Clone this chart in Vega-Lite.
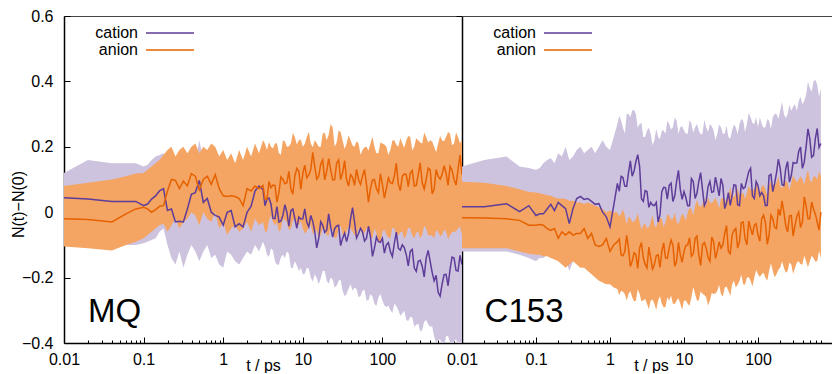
{
  "$schema": "https://vega.github.io/schema/vega-lite/v6.json",
  "padding": {"left": 10, "top": 8, "right": 0, "bottom": 0},
  "spacing": 0,
  "bounds": "flush",
  "config": {"view": {"stroke": null}, "font": "Liberation Sans", "axis": {"labelFont": "Liberation Sans", "titleFont": "Liberation Sans"}},
  "resolve": {"scale": {"x": "independent", "y": "independent", "color": "independent"}, "legend": {"color": "independent"}},
  "datasets": {
    "mq": [
      {"t":0.01,"cy":0.044,"cl":-0.07,"ch":0.12,"ay":-0.02,"al":-0.105,"ah":0.08},
      {"t":0.02,"cy":0.04,"cl":-0.08,"ch":0.16,"ay":-0.022,"al":-0.11,"ah":0.09},
      {"t":0.04,"cy":0.033,"cl":-0.09,"ch":0.15,"ay":-0.03,"al":-0.117,"ah":0.10},
      {"t":0.06,"cy":0.033,"cl":-0.1,"ch":0.15,"ay":-0.005,"al":-0.1,"ah":0.11},
      {"t":0.08,"cy":0.033,"cl":-0.1,"ch":0.15,"ay":0.01,"al":-0.09,"ah":0.118},
      {"t":0.1,"cy":0.02,"cl":-0.095,"ch":0.14,"ay":0.015,"al":-0.08,"ah":0.12},
      {"t":0.1122,"cy":0.025,"cl":-0.09,"ch":0.145,"ay":0.01,"al":-0.07,"ah":0.13},
      {"t":0.1259,"cy":0.04,"cl":-0.085,"ch":0.16,"ay":0.0,"al":-0.06,"ah":0.14},
      {"t":0.1413,"cy":0.05,"cl":-0.08,"ch":0.17,"ay":0.008,"al":-0.05,"ah":0.15},
      {"t":0.1585,"cy":0.065,"cl":-0.06,"ch":0.175,"ay":0.018,"al":-0.04,"ah":0.16},
      {"t":0.1778,"cy":0.072,"cl":-0.05,"ch":0.18,"ay":0.02,"al":-0.035,"ah":0.175},
      {"t":0.1995,"cy":0.005,"cl":-0.1,"ch":0.15,"ay":0.065,"al":-0.06,"ah":0.19},
      {"t":0.2239,"cy":0.01,"cl":-0.14,"ch":0.12,"ay":0.1,"al":-0.04,"ah":0.2},
      {"t":0.2512,"cy":-0.03,"cl":-0.16,"ch":0.1,"ay":0.097,"al":-0.02,"ah":0.17},
      {"t":0.2818,"cy":-0.028,"cl":-0.12,"ch":0.08,"ay":0.072,"al":-0.05,"ah":0.19},
      {"t":0.3162,"cy":-0.03,"cl":-0.17,"ch":0.12,"ay":0.095,"al":-0.03,"ah":0.2},
      {"t":0.3548,"cy":0.01,"cl":-0.13,"ch":0.14,"ay":0.08,"al":-0.02,"ah":0.18},
      {"t":0.3981,"cy":0.055,"cl":-0.1,"ch":0.17,"ay":0.118,"al":0.0,"ah":0.2},
      {"t":0.4467,"cy":0.06,"cl":-0.12,"ch":0.15,"ay":0.11,"al":-0.01,"ah":0.21},
      {"t":0.5012,"cy":0.097,"cl":-0.15,"ch":0.22,"ay":0.068,"al":-0.04,"ah":0.18},
      {"t":0.5623,"cy":0.03,"cl":-0.12,"ch":0.16,"ay":0.1,"al":0.0,"ah":0.2},
      {"t":0.631,"cy":0.042,"cl":-0.1,"ch":0.15,"ay":0.11,"al":-0.02,"ah":0.19},
      {"t":0.7079,"cy":0.0,"cl":-0.14,"ch":0.12,"ay":0.085,"al":-0.03,"ah":0.21},
      {"t":0.7943,"cy":-0.01,"cl":-0.13,"ch":0.14,"ay":0.115,"al":0.0,"ah":0.2},
      {"t":0.8913,"cy":-0.015,"cl":-0.16,"ch":0.13,"ay":0.072,"al":-0.05,"ah":0.17},
      {"t":1,"cy":-0.04,"cl":-0.17,"ch":0.1,"ay":0.05,"al":-0.03,"ah":0.19},
      {"t":1.122,"cy":0.0,"cl":-0.12,"ch":0.13,"ay":0.048,"al":-0.07,"ah":0.16},
      {"t":1.259,"cy":0.005,"cl":-0.13,"ch":0.15,"ay":0.05,"al":-0.05,"ah":0.18},
      {"t":1.413,"cy":-0.045,"cl":-0.15,"ch":0.14,"ay":0.048,"al":-0.04,"ah":0.15},
      {"t":1.585,"cy":-0.035,"cl":-0.16,"ch":0.12,"ay":0.042,"al":-0.06,"ah":0.19},
      {"t":1.778,"cy":-0.045,"cl":-0.14,"ch":0.16,"ay":0.02,"al":-0.05,"ah":0.16},
      {"t":1.995,"cy":0.0,"cl":-0.12,"ch":0.15,"ay":0.072,"al":-0.03,"ah":0.2},
      {"t":2.239,"cy":0.018,"cl":-0.13,"ch":0.13,"ay":0.065,"al":-0.06,"ah":0.17},
      {"t":2.512,"cy":0.065,"cl":-0.1,"ch":0.17,"ay":0.08,"al":-0.02,"ah":0.21},
      {"t":2.818,"cy":0.08,"cl":-0.12,"ch":0.16,"ay":0.072,"al":-0.04,"ah":0.18},
      {"t":3.162,"cy":0.07,"cl":-0.09,"ch":0.18,"ay":0.082,"al":-0.03,"ah":0.22},
      {"t":3.548,"cy":0.04,"cl":-0.13,"ch":0.15,"ay":0.04,"al":-0.06,"ah":0.19},
      {"t":3.981,"cy":0.025,"cl":-0.11,"ch":0.17,"ay":0.075,"al":-0.01,"ah":0.2},
      {"t":4.467,"cy":-0.02,"cl":-0.15,"ch":0.15,"ay":0.082,"al":-0.04,"ah":0.21},
      {"t":5.012,"cy":-0.03,"cl":-0.16,"ch":0.14,"ay":0.06,"al":-0.06,"ah":0.18},
      {"t":5.623,"cy":-0.01,"cl":-0.13,"ch":0.16,"ay":0.1,"al":-0.02,"ah":0.22},
      {"t":6.31,"cy":0.0,"cl":-0.12,"ch":0.17,"ay":0.09,"al":-0.03,"ah":0.2},
      {"t":7.079,"cy":0.005,"cl":-0.17,"ch":0.15,"ay":0.072,"al":-0.05,"ah":0.21},
      {"t":7.943,"cy":-0.02,"cl":-0.15,"ch":0.12,"ay":0.11,"al":-0.02,"ah":0.23},
      {"t":8.913,"cy":-0.015,"cl":-0.18,"ch":0.14,"ay":0.125,"al":-0.04,"ah":0.22},
      {"t":10,"cy":-0.02,"cl":-0.19,"ch":0.13,"ay":0.118,"al":-0.05,"ah":0.2},
      {"t":11.22,"cy":-0.03,"cl":-0.17,"ch":0.15,"ay":0.105,"al":-0.06,"ah":0.23},
      {"t":12.59,"cy":-0.01,"cl":-0.2,"ch":0.13,"ay":0.13,"al":-0.04,"ah":0.21},
      {"t":14.13,"cy":-0.06,"cl":-0.19,"ch":0.12,"ay":0.14,"al":-0.06,"ah":0.22},
      {"t":15.85,"cy":-0.08,"cl":-0.22,"ch":0.1,"ay":0.11,"al":-0.08,"ah":0.2},
      {"t":17.78,"cy":-0.04,"cl":-0.18,"ch":0.14,"ay":0.16,"al":-0.05,"ah":0.24},
      {"t":19.95,"cy":-0.055,"cl":-0.21,"ch":0.12,"ay":0.125,"al":-0.07,"ah":0.22},
      {"t":22.39,"cy":-0.045,"cl":-0.2,"ch":0.13,"ay":0.13,"al":-0.04,"ah":0.27},
      {"t":25.12,"cy":-0.05,"cl":-0.23,"ch":0.11,"ay":0.1,"al":-0.08,"ah":0.2},
      {"t":28.18,"cy":-0.04,"cl":-0.21,"ch":0.12,"ay":0.16,"al":-0.05,"ah":0.25},
      {"t":31.62,"cy":-0.08,"cl":-0.24,"ch":0.1,"ay":0.12,"al":-0.07,"ah":0.22},
      {"t":35.48,"cy":-0.09,"cl":-0.25,"ch":0.09,"ay":0.1,"al":-0.06,"ah":0.21},
      {"t":39.81,"cy":-0.02,"cl":-0.22,"ch":0.13,"ay":0.115,"al":-0.05,"ah":0.22},
      {"t":44.67,"cy":-0.03,"cl":-0.23,"ch":0.12,"ay":0.082,"al":-0.07,"ah":0.2},
      {"t":50.12,"cy":-0.065,"cl":-0.26,"ch":0.1,"ay":0.1,"al":-0.05,"ah":0.21},
      {"t":56.23,"cy":-0.06,"cl":-0.24,"ch":0.11,"ay":0.11,"al":-0.07,"ah":0.19},
      {"t":63.1,"cy":-0.08,"cl":-0.27,"ch":0.09,"ay":0.085,"al":-0.05,"ah":0.2},
      {"t":70.79,"cy":-0.075,"cl":-0.25,"ch":0.1,"ay":0.072,"al":-0.08,"ah":0.21},
      {"t":79.43,"cy":-0.11,"cl":-0.28,"ch":0.07,"ay":0.1,"al":-0.05,"ah":0.2},
      {"t":89.13,"cy":-0.09,"cl":-0.26,"ch":0.08,"ay":0.06,"al":-0.09,"ah":0.18},
      {"t":100,"cy":-0.08,"cl":-0.27,"ch":0.1,"ay":0.085,"al":-0.06,"ah":0.21},
      {"t":112.2,"cy":-0.1,"cl":-0.29,"ch":0.07,"ay":0.072,"al":-0.07,"ah":0.2},
      {"t":125.9,"cy":-0.12,"cl":-0.3,"ch":0.06,"ay":0.09,"al":-0.08,"ah":0.19},
      {"t":141.3,"cy":-0.095,"cl":-0.28,"ch":0.08,"ay":0.11,"al":-0.05,"ah":0.22},
      {"t":158.5,"cy":-0.11,"cl":-0.3,"ch":0.06,"ay":0.085,"al":-0.07,"ah":0.2},
      {"t":177.8,"cy":-0.1,"cl":-0.31,"ch":0.07,"ay":0.11,"al":-0.06,"ah":0.21},
      {"t":199.5,"cy":-0.13,"cl":-0.33,"ch":0.05,"ay":0.115,"al":-0.07,"ah":0.22},
      {"t":223.9,"cy":-0.12,"cl":-0.32,"ch":0.06,"ay":0.12,"al":-0.05,"ah":0.23},
      {"t":251.2,"cy":-0.17,"cl":-0.35,"ch":0.03,"ay":0.08,"al":-0.08,"ah":0.2},
      {"t":281.8,"cy":-0.15,"cl":-0.34,"ch":0.04,"ay":0.115,"al":-0.06,"ah":0.22},
      {"t":316.2,"cy":-0.165,"cl":-0.36,"ch":0.03,"ay":0.09,"al":-0.07,"ah":0.21},
      {"t":354.8,"cy":-0.14,"cl":-0.33,"ch":0.06,"ay":0.1,"al":-0.05,"ah":0.23},
      {"t":398.1,"cy":-0.15,"cl":-0.35,"ch":0.05,"ay":0.13,"al":-0.07,"ah":0.22},
      {"t":446.7,"cy":-0.21,"cl":-0.38,"ch":0.02,"ay":0.07,"al":-0.08,"ah":0.2},
      {"t":501.2,"cy":-0.245,"cl":-0.39,"ch":0.0,"ay":0.11,"al":-0.06,"ah":0.21},
      {"t":562.3,"cy":-0.22,"cl":-0.4,"ch":0.01,"ay":0.115,"al":-0.07,"ah":0.22},
      {"t":631,"cy":-0.19,"cl":-0.38,"ch":0.03,"ay":0.12,"al":-0.06,"ah":0.23},
      {"t":707.9,"cy":-0.175,"cl":-0.4,"ch":0.04,"ay":0.14,"al":-0.07,"ah":0.24},
      {"t":794.3,"cy":-0.14,"cl":-0.4,"ch":0.06,"ay":0.1,"al":-0.06,"ah":0.21},
      {"t":891.3,"cy":-0.18,"cl":-0.41,"ch":0.03,"ay":0.13,"al":-0.05,"ah":0.23},
      {"t":1000,"cy":-0.16,"cl":-0.4,"ch":0.05,"ay":0.115,"al":-0.07,"ah":0.22},
      {"t":3.35,"cy":0.02,"cl":-0.106,"ch":0.182,"ay":0.041,"al":-0.059,"ah":0.209},
      {"t":3.758,"cy":0.043,"cl":-0.137,"ch":0.147,"ay":0.094,"al":-0.026,"ah":0.215},
      {"t":4.217,"cy":-0.019,"cl":-0.117,"ch":0.166,"ay":0.083,"al":-0.03,"ah":0.195},
      {"t":4.732,"cy":0.017,"cl":-0.161,"ch":0.126,"ay":0.031,"al":-0.031,"ah":0.211},
      {"t":5.309,"cy":-0.027,"cl":-0.138,"ch":0.162,"ay":0.108,"al":-0.052,"ah":0.176},
      {"t":5.957,"cy":0.023,"cl":-0.14,"ch":0.164,"ay":0.087,"al":-0.024,"ah":0.216},
      {"t":6.683,"cy":-0.043,"cl":-0.127,"ch":0.178,"ay":0.125,"al":-0.055,"ah":0.201},
      {"t":7.499,"cy":0.01,"cl":-0.171,"ch":0.126,"ay":0.055,"al":-0.025,"ah":0.242},
      {"t":8.414,"cy":-0.049,"cl":-0.162,"ch":0.135,"ay":0.134,"al":-0.036,"ah":0.207},
      {"t":9.441,"cy":-0.021,"cl":-0.17,"ch":0.119,"ay":0.07,"al":-0.027,"ah":0.222},
      {"t":10.59,"cy":0.01,"cl":-0.188,"ch":0.154,"ay":0.144,"al":-0.064,"ah":0.209},
      {"t":11.89,"cy":-0.045,"cl":-0.173,"ch":0.134,"ay":0.114,"al":-0.043,"ah":0.246},
      {"t":13.34,"cy":-0.028,"cl":-0.213,"ch":0.133,"ay":0.183,"al":-0.067,"ah":0.199},
      {"t":14.96,"cy":-0.109,"cl":-0.201,"ch":0.095,"ay":0.101,"al":-0.055,"ah":0.212},
      {"t":16.79,"cy":-0.029,"cl":-0.203,"ch":0.138,"ay":0.147,"al":-0.07,"ah":0.2},
      {"t":18.84,"cy":-0.062,"cl":-0.179,"ch":0.12,"ay":0.099,"al":-0.051,"ah":0.244},
      {"t":21.13,"cy":-0.005,"cl":-0.219,"ch":0.128,"ay":0.164,"al":-0.073,"ah":0.237},
      {"t":23.71,"cy":-0.076,"cl":-0.206,"ch":0.135,"ay":0.099,"al":-0.057,"ah":0.259},
      {"t":26.61,"cy":-0.042,"cl":-0.225,"ch":0.108,"ay":0.15,"al":-0.077,"ah":0.213},
      {"t":29.85,"cy":-0.102,"cl":-0.206,"ch":0.122,"ay":0.1,"al":-0.041,"ah":0.245},
      {"t":33.5,"cy":-0.064,"cl":-0.257,"ch":0.077,"ay":0.158,"al":-0.073,"ah":0.193},
      {"t":37.58,"cy":-0.066,"cl":-0.234,"ch":0.115,"ay":0.08,"al":-0.042,"ah":0.235},
      {"t":42.17,"cy":0.014,"cl":-0.24,"ch":0.122,"ay":0.107,"al":-0.059,"ah":0.204},
      {"t":47.32,"cy":-0.079,"cl":-0.235,"ch":0.127,"ay":0.131,"al":-0.075,"ah":0.217},
      {"t":53.09,"cy":-0.049,"cl":-0.256,"ch":0.092,"ay":0.085,"al":-0.05,"ah":0.176},
      {"t":59.57,"cy":-0.088,"cl":-0.237,"ch":0.109,"ay":0.13,"al":-0.063,"ah":0.199},
      {"t":66.83,"cy":-0.043,"cl":-0.269,"ch":0.091,"ay":0.031,"al":-0.049,"ah":0.189},
      {"t":74.99,"cy":-0.135,"cl":-0.258,"ch":0.105,"ay":0.098,"al":-0.079,"ah":0.231},
      {"t":84.14,"cy":-0.076,"cl":-0.287,"ch":0.063,"ay":0.072,"al":-0.064,"ah":0.18},
      {"t":94.41,"cy":-0.092,"cl":-0.25,"ch":0.092,"ay":0.117,"al":-0.095,"ah":0.213},
      {"t":105.9,"cy":-0.125,"cl":-0.285,"ch":0.07,"ay":0.043,"al":-0.053,"ah":0.207},
      {"t":118.9,"cy":-0.093,"cl":-0.286,"ch":0.076,"ay":0.105,"al":-0.077,"ah":0.175},
      {"t":133.4,"cy":-0.136,"cl":-0.308,"ch":0.064,"ay":0.088,"al":-0.047,"ah":0.219},
      {"t":149.6,"cy":-0.061,"cl":-0.287,"ch":0.088,"ay":0.15,"al":-0.069,"ah":0.206},
      {"t":167.9,"cy":-0.116,"cl":-0.317,"ch":0.056,"ay":0.066,"al":-0.061,"ah":0.227},
      {"t":188.4,"cy":-0.108,"cl":-0.301,"ch":0.068,"ay":0.117,"al":-0.082,"ah":0.197},
      {"t":211.3,"cy":-0.164,"cl":-0.333,"ch":0.039,"ay":0.078,"al":-0.047,"ah":0.233},
      {"t":237.1,"cy":-0.114,"cl":-0.322,"ch":0.06,"ay":0.128,"al":-0.071,"ah":0.189},
      {"t":266.1,"cy":-0.181,"cl":-0.344,"ch":0.031,"ay":0.082,"al":-0.063,"ah":0.226},
      {"t":298.5,"cy":-0.147,"cl":-0.365,"ch":0.044,"ay":0.151,"al":-0.08,"ah":0.213},
      {"t":335,"cy":-0.198,"cl":-0.335,"ch":0.027,"ay":0.071,"al":-0.042,"ah":0.244},
      {"t":375.8,"cy":-0.117,"cl":-0.343,"ch":0.058,"ay":0.135,"al":-0.071,"ah":0.213},
      {"t":421.7,"cy":-0.184,"cl":-0.349,"ch":0.023,"ay":0.056,"al":-0.072,"ah":0.216},
      {"t":473.2,"cy":-0.193,"cl":-0.399,"ch":0.03,"ay":0.13,"al":-0.055,"ah":0.183},
      {"t":530.9,"cy":-0.257,"cl":-0.389,"ch":-0.003,"ay":0.101,"al":-0.073,"ah":0.233},
      {"t":595.7,"cy":-0.191,"cl":-0.41,"ch":0.034,"ay":0.142,"al":-0.053,"ah":0.217},
      {"t":668.3,"cy":-0.225,"cl":-0.378,"ch":0.037,"ay":0.082,"al":-0.083,"ah":0.245},
      {"t":749.9,"cy":-0.137,"cl":-0.402,"ch":0.035,"ay":0.128,"al":-0.061,"ah":0.205},
      {"t":841.4,"cy":-0.178,"cl":-0.387,"ch":0.056,"ay":0.083,"al":-0.058,"ah":0.244},
      {"t":944.1,"cy":-0.132,"cl":-0.414,"ch":0.037,"ay":0.175,"al":-0.044,"ah":0.211}
    ],
    "c153": [
      {"t":0.01,"cy":0.017,"cl":-0.12,"ch":0.14,"ay":-0.017,"al":-0.11,"ah":0.093},
      {"t":0.02,"cy":0.017,"cl":-0.12,"ch":0.16,"ay":-0.018,"al":-0.11,"ah":0.09},
      {"t":0.04,"cy":0.026,"cl":-0.12,"ch":0.17,"ay":-0.02,"al":-0.11,"ah":0.08},
      {"t":0.06,"cy":0.002,"cl":-0.13,"ch":0.14,"ay":-0.025,"al":-0.12,"ah":0.07},
      {"t":0.08,"cy":0.02,"cl":-0.14,"ch":0.135,"ay":-0.04,"al":-0.127,"ah":0.062},
      {"t":0.1,"cy":-0.01,"cl":-0.15,"ch":0.13,"ay":-0.04,"al":-0.13,"ah":0.06},
      {"t":0.1122,"cy":-0.005,"cl":-0.14,"ch":0.135,"ay":-0.038,"al":-0.13,"ah":0.058},
      {"t":0.1259,"cy":-0.005,"cl":-0.14,"ch":0.15,"ay":-0.04,"al":-0.135,"ah":0.055},
      {"t":0.1413,"cy":0.01,"cl":-0.13,"ch":0.16,"ay":-0.05,"al":-0.135,"ah":0.052},
      {"t":0.1585,"cy":0.024,"cl":-0.12,"ch":0.165,"ay":-0.056,"al":-0.14,"ah":0.05},
      {"t":0.1778,"cy":0.005,"cl":-0.14,"ch":0.15,"ay":-0.05,"al":-0.145,"ah":0.045},
      {"t":0.1995,"cy":0.03,"cl":-0.12,"ch":0.18,"ay":-0.08,"al":-0.15,"ah":0.042},
      {"t":0.2239,"cy":0.02,"cl":-0.13,"ch":0.17,"ay":-0.06,"al":-0.16,"ah":0.042},
      {"t":0.2512,"cy":0.011,"cl":-0.14,"ch":0.2,"ay":-0.07,"al":-0.17,"ah":0.04},
      {"t":0.2818,"cy":-0.035,"cl":-0.18,"ch":0.16,"ay":-0.06,"al":-0.16,"ah":0.035},
      {"t":0.3162,"cy":0.011,"cl":-0.15,"ch":0.17,"ay":-0.07,"al":-0.15,"ah":0.035},
      {"t":0.3548,"cy":0.042,"cl":-0.13,"ch":0.19,"ay":-0.065,"al":-0.16,"ah":0.03},
      {"t":0.3981,"cy":0.048,"cl":-0.12,"ch":0.2,"ay":-0.065,"al":-0.17,"ah":0.03},
      {"t":0.4467,"cy":0.039,"cl":-0.13,"ch":0.18,"ay":-0.05,"al":-0.17,"ah":0.025},
      {"t":0.5012,"cy":0.042,"cl":-0.12,"ch":0.19,"ay":-0.08,"al":-0.18,"ah":0.03},
      {"t":0.5623,"cy":0.033,"cl":-0.13,"ch":0.2,"ay":-0.065,"al":-0.19,"ah":0.025},
      {"t":0.631,"cy":0.024,"cl":-0.14,"ch":0.18,"ay":-0.1,"al":-0.2,"ah":0.02},
      {"t":0.7079,"cy":0.026,"cl":-0.14,"ch":0.2,"ay":-0.105,"al":-0.21,"ah":0.015},
      {"t":0.7943,"cy":0.0,"cl":-0.16,"ch":0.22,"ay":-0.1,"al":-0.215,"ah":0.01},
      {"t":0.8913,"cy":-0.014,"cl":-0.18,"ch":0.2,"ay":-0.08,"al":-0.22,"ah":0.0},
      {"t":1,"cy":-0.045,"cl":-0.2,"ch":0.19,"ay":-0.12,"al":-0.22,"ah":0.005},
      {"t":1.122,"cy":0.02,"cl":-0.15,"ch":0.23,"ay":-0.1,"al":-0.23,"ah":0.0},
      {"t":1.259,"cy":0.088,"cl":-0.1,"ch":0.27,"ay":-0.09,"al":-0.235,"ah":0.0},
      {"t":1.413,"cy":0.11,"cl":-0.08,"ch":0.28,"ay":-0.13,"al":-0.24,"ah":-0.005},
      {"t":1.585,"cy":0.08,"cl":-0.1,"ch":0.24,"ay":-0.12,"al":-0.25,"ah":-0.01},
      {"t":1.778,"cy":0.12,"cl":-0.07,"ch":0.3,"ay":-0.11,"al":-0.25,"ah":-0.015},
      {"t":1.995,"cy":0.11,"cl":-0.08,"ch":0.31,"ay":-0.15,"al":-0.26,"ah":-0.03},
      {"t":2.239,"cy":0.155,"cl":-0.05,"ch":0.3,"ay":-0.13,"al":-0.27,"ah":-0.02},
      {"t":2.512,"cy":0.14,"cl":-0.06,"ch":0.27,"ay":-0.11,"al":-0.25,"ah":-0.03},
      {"t":2.818,"cy":0.033,"cl":-0.15,"ch":0.23,"ay":-0.14,"al":-0.27,"ah":-0.04},
      {"t":3.162,"cy":0.063,"cl":-0.13,"ch":0.25,"ay":-0.17,"al":-0.28,"ah":-0.05},
      {"t":3.548,"cy":0.03,"cl":-0.15,"ch":0.24,"ay":-0.14,"al":-0.27,"ah":-0.03},
      {"t":3.981,"cy":0.02,"cl":-0.16,"ch":0.22,"ay":-0.16,"al":-0.28,"ah":-0.04},
      {"t":4.467,"cy":-0.03,"cl":-0.2,"ch":0.23,"ay":-0.13,"al":-0.27,"ah":-0.02},
      {"t":5.012,"cy":0.063,"cl":-0.13,"ch":0.25,"ay":-0.12,"al":-0.28,"ah":-0.02},
      {"t":5.623,"cy":0.075,"cl":-0.12,"ch":0.24,"ay":-0.14,"al":-0.29,"ah":-0.03},
      {"t":6.31,"cy":0.082,"cl":-0.11,"ch":0.27,"ay":-0.11,"al":-0.27,"ah":-0.01},
      {"t":7.079,"cy":0.033,"cl":-0.15,"ch":0.26,"ay":-0.1,"al":-0.28,"ah":-0.02},
      {"t":7.943,"cy":0.094,"cl":-0.1,"ch":0.28,"ay":-0.15,"al":-0.27,"ah":-0.03},
      {"t":8.913,"cy":0.07,"cl":-0.12,"ch":0.26,"ay":-0.13,"al":-0.28,"ah":-0.02},
      {"t":10,"cy":0.063,"cl":-0.13,"ch":0.25,"ay":-0.12,"al":-0.27,"ah":-0.01},
      {"t":11.22,"cy":0.02,"cl":-0.16,"ch":0.24,"ay":-0.1,"al":-0.28,"ah":0.0},
      {"t":12.59,"cy":0.103,"cl":-0.09,"ch":0.27,"ay":-0.135,"al":-0.26,"ah":0.01},
      {"t":14.13,"cy":0.042,"cl":-0.14,"ch":0.26,"ay":-0.08,"al":-0.25,"ah":0.02},
      {"t":15.85,"cy":0.094,"cl":-0.1,"ch":0.25,"ay":-0.13,"al":-0.27,"ah":0.02},
      {"t":17.78,"cy":0.07,"cl":-0.12,"ch":0.24,"ay":-0.1,"al":-0.25,"ah":0.025},
      {"t":19.95,"cy":0.033,"cl":-0.15,"ch":0.26,"ay":-0.11,"al":-0.26,"ah":0.02},
      {"t":22.39,"cy":0.094,"cl":-0.1,"ch":0.27,"ay":-0.15,"al":-0.27,"ah":0.03},
      {"t":25.12,"cy":0.063,"cl":-0.12,"ch":0.25,"ay":-0.09,"al":-0.25,"ah":0.035},
      {"t":28.18,"cy":0.08,"cl":-0.11,"ch":0.24,"ay":-0.12,"al":-0.24,"ah":0.03},
      {"t":31.62,"cy":0.103,"cl":-0.09,"ch":0.26,"ay":-0.11,"al":-0.25,"ah":0.04},
      {"t":35.48,"cy":0.011,"cl":-0.16,"ch":0.24,"ay":-0.065,"al":-0.23,"ah":0.04},
      {"t":39.81,"cy":0.06,"cl":-0.13,"ch":0.23,"ay":-0.12,"al":-0.24,"ah":0.05},
      {"t":44.67,"cy":0.051,"cl":-0.14,"ch":0.25,"ay":-0.07,"al":-0.22,"ah":0.05},
      {"t":50.12,"cy":0.082,"cl":-0.11,"ch":0.26,"ay":-0.05,"al":-0.23,"ah":0.06},
      {"t":56.23,"cy":0.02,"cl":-0.16,"ch":0.27,"ay":-0.09,"al":-0.21,"ah":0.05},
      {"t":63.1,"cy":0.072,"cl":-0.12,"ch":0.28,"ay":-0.03,"al":-0.22,"ah":0.06},
      {"t":70.79,"cy":0.1,"cl":-0.1,"ch":0.27,"ay":-0.1,"al":-0.2,"ah":0.06},
      {"t":79.43,"cy":0.134,"cl":-0.07,"ch":0.29,"ay":-0.05,"al":-0.21,"ah":0.07},
      {"t":89.13,"cy":0.042,"cl":-0.14,"ch":0.27,"ay":-0.04,"al":-0.2,"ah":0.07},
      {"t":100,"cy":0.082,"cl":-0.12,"ch":0.26,"ay":-0.07,"al":-0.19,"ah":0.07},
      {"t":112.2,"cy":0.06,"cl":-0.13,"ch":0.27,"ay":-0.02,"al":-0.19,"ah":0.08},
      {"t":125.9,"cy":0.02,"cl":-0.16,"ch":0.26,"ay":-0.03,"al":-0.2,"ah":0.07},
      {"t":141.3,"cy":0.112,"cl":-0.09,"ch":0.28,"ay":-0.07,"al":-0.18,"ah":0.08},
      {"t":158.5,"cy":0.063,"cl":-0.12,"ch":0.29,"ay":-0.02,"al":-0.18,"ah":0.08},
      {"t":177.8,"cy":0.12,"cl":-0.08,"ch":0.3,"ay":-0.05,"al":-0.19,"ah":0.09},
      {"t":199.5,"cy":0.134,"cl":-0.07,"ch":0.31,"ay":-0.01,"al":-0.17,"ah":0.08},
      {"t":223.9,"cy":0.082,"cl":-0.1,"ch":0.3,"ay":0.0,"al":-0.17,"ah":0.09},
      {"t":251.2,"cy":0.155,"cl":-0.06,"ch":0.3,"ay":-0.06,"al":-0.18,"ah":0.09},
      {"t":281.8,"cy":0.112,"cl":-0.08,"ch":0.31,"ay":-0.01,"al":-0.16,"ah":0.09},
      {"t":316.2,"cy":0.15,"cl":-0.06,"ch":0.33,"ay":-0.04,"al":-0.17,"ah":0.1},
      {"t":354.8,"cy":0.186,"cl":-0.03,"ch":0.34,"ay":0.0,"al":-0.15,"ah":0.1},
      {"t":398.1,"cy":0.134,"cl":-0.07,"ch":0.33,"ay":-0.03,"al":-0.16,"ah":0.1},
      {"t":446.7,"cy":0.2,"cl":-0.02,"ch":0.36,"ay":0.02,"al":-0.15,"ah":0.11},
      {"t":501.2,"cy":0.225,"cl":0.0,"ch":0.38,"ay":-0.02,"al":-0.15,"ah":0.1},
      {"t":562.3,"cy":0.173,"cl":-0.03,"ch":0.4,"ay":0.01,"al":-0.14,"ah":0.11},
      {"t":631,"cy":0.256,"cl":0.02,"ch":0.39,"ay":-0.03,"al":-0.15,"ah":0.1},
      {"t":707.9,"cy":0.21,"cl":0.0,"ch":0.38,"ay":0.0,"al":-0.14,"ah":0.11},
      {"t":1.334,"cy":0.064,"cl":-0.077,"ch":0.295,"ay":-0.082,"al":-0.254,"ah":-0.013},
      {"t":1.496,"cy":0.106,"cl":-0.096,"ch":0.258,"ay":-0.133,"al":-0.243,"ah":0.009},
      {"t":1.679,"cy":0.079,"cl":-0.078,"ch":0.3,"ay":-0.071,"al":-0.27,"ah":-0.037},
      {"t":1.884,"cy":0.157,"cl":-0.09,"ch":0.29,"ay":-0.166,"al":-0.241,"ah":-0.017},
      {"t":2.113,"cy":0.126,"cl":-0.047,"ch":0.313,"ay":-0.124,"al":-0.273,"ah":-0.029},
      {"t":2.371,"cy":0.176,"cl":-0.066,"ch":0.258,"ay":-0.172,"al":-0.236,"ah":-0.003},
      {"t":2.661,"cy":0.041,"cl":-0.102,"ch":0.273,"ay":-0.093,"al":-0.272,"ah":-0.053},
      {"t":2.985,"cy":0.066,"cl":-0.125,"ch":0.23,"ay":-0.159,"al":-0.265,"ah":-0.033},
      {"t":3.35,"cy":0.015,"cl":-0.148,"ch":0.258,"ay":-0.107,"al":-0.297,"ah":-0.046},
      {"t":3.758,"cy":0.022,"cl":-0.143,"ch":0.205,"ay":-0.174,"al":-0.267,"ah":-0.009},
      {"t":4.217,"cy":0.03,"cl":-0.198,"ch":0.255,"ay":-0.133,"al":-0.299,"ah":-0.046},
      {"t":4.732,"cy":-0.008,"cl":-0.161,"ch":0.223,"ay":-0.169,"al":-0.257,"ah":-0.018},
      {"t":5.309,"cy":0.076,"cl":-0.128,"ch":0.25,"ay":-0.094,"al":-0.291,"ah":-0.045},
      {"t":5.957,"cy":0.04,"cl":-0.099,"ch":0.28,"ay":-0.141,"al":-0.26,"ah":-0.006},
      {"t":6.683,"cy":0.089,"cl":-0.144,"ch":0.253,"ay":-0.085,"al":-0.255,"ah":-0.023},
      {"t":7.499,"cy":0.05,"cl":-0.116,"ch":0.29,"ay":-0.165,"al":-0.281,"ah":-0.001},
      {"t":8.414,"cy":0.128,"cl":-0.115,"ch":0.24,"ay":-0.092,"al":-0.263,"ah":-0.037},
      {"t":9.441,"cy":0.039,"cl":-0.106,"ch":0.263,"ay":-0.153,"al":-0.299,"ah":-0.005},
      {"t":10.59,"cy":0.045,"cl":-0.157,"ch":0.24,"ay":-0.102,"al":-0.271,"ah":-0.027},
      {"t":11.89,"cy":0.02,"cl":-0.124,"ch":0.283,"ay":-0.078,"al":-0.286,"ah":0.013},
      {"t":13.34,"cy":0.094,"cl":-0.13,"ch":0.243,"ay":-0.128,"al":-0.229,"ah":-0.009},
      {"t":14.96,"cy":0.058,"cl":-0.11,"ch":0.27,"ay":-0.073,"al":-0.27,"ah":0.038},
      {"t":16.79,"cy":0.121,"cl":-0.116,"ch":0.238,"ay":-0.163,"al":-0.242,"ah":0.017},
      {"t":18.84,"cy":0.02,"cl":-0.117,"ch":0.283,"ay":-0.093,"al":-0.253,"ah":0.043},
      {"t":21.13,"cy":0.078,"cl":-0.134,"ch":0.245,"ay":-0.138,"al":-0.285,"ah":0.045},
      {"t":23.71,"cy":0.061,"cl":-0.103,"ch":0.263,"ay":-0.076,"al":-0.246,"ah":0.027},
      {"t":26.61,"cy":0.107,"cl":-0.132,"ch":0.22,"ay":-0.141,"al":-0.249,"ah":0.045},
      {"t":29.85,"cy":0.05,"cl":-0.094,"ch":0.268,"ay":-0.091,"al":-0.223,"ah":0.011},
      {"t":33.5,"cy":0.082,"cl":-0.143,"ch":0.24,"ay":-0.1,"al":-0.258,"ah":0.044},
      {"t":37.58,"cy":0.029,"cl":-0.132,"ch":0.265,"ay":-0.041,"al":-0.227,"ah":0.029},
      {"t":42.17,"cy":0.021,"cl":-0.14,"ch":0.225,"ay":-0.127,"al":-0.256,"ah":0.076},
      {"t":47.32,"cy":0.084,"cl":-0.11,"ch":0.268,"ay":-0.056,"al":-0.209,"ah":0.045},
      {"t":53.09,"cy":0.023,"cl":-0.12,"ch":0.238,"ay":-0.11,"al":-0.222,"ah":0.073},
      {"t":59.57,"cy":0.088,"cl":-0.145,"ch":0.285,"ay":-0.032,"al":-0.191,"ah":0.057},
      {"t":66.83,"cy":0.076,"cl":-0.101,"ch":0.245,"ay":-0.081,"al":-0.222,"ah":0.04},
      {"t":74.99,"cy":0.124,"cl":-0.103,"ch":0.303,"ay":-0.027,"al":-0.199,"ah":0.079},
      {"t":84.14,"cy":0.05,"cl":-0.102,"ch":0.273,"ay":-0.069,"al":-0.227,"ah":0.066},
      {"t":94.41,"cy":0.094,"cl":-0.142,"ch":0.29,"ay":-0.035,"al":-0.177,"ah":0.092},
      {"t":105.9,"cy":0.05,"cl":-0.106,"ch":0.29,"ay":-0.089,"al":-0.198,"ah":0.057},
      {"t":118.9,"cy":0.051,"cl":-0.153,"ch":0.258,"ay":-0.009,"al":-0.185,"ah":0.083},
      {"t":133.4,"cy":0.021,"cl":-0.112,"ch":0.285,"ay":-0.098,"al":-0.21,"ah":0.049},
      {"t":149.6,"cy":0.116,"cl":-0.104,"ch":0.255,"ay":-0.009,"al":-0.156,"ah":0.096},
      {"t":167.9,"cy":0.088,"cl":-0.115,"ch":0.3,"ay":-0.047,"al":-0.199,"ah":0.083},
      {"t":188.4,"cy":0.162,"cl":-0.065,"ch":0.285,"ay":0.01,"al":-0.176,"ah":0.109},
      {"t":211.3,"cy":0.084,"cl":-0.088,"ch":0.338,"ay":0.035,"al":-0.15,"ah":0.073},
      {"t":237.1,"cy":0.133,"cl":-0.064,"ch":0.288,"ay":-0.042,"al":-0.185,"ah":0.096},
      {"t":266.1,"cy":0.092,"cl":-0.084,"ch":0.328,"ay":-0.011,"al":-0.154,"ah":0.068},
      {"t":298.5,"cy":0.152,"cl":-0.064,"ch":0.323,"ay":-0.073,"al":-0.189,"ah":0.113},
      {"t":335,"cy":0.151,"cl":-0.065,"ch":0.31,"ay":-0.012,"al":-0.154,"ah":0.092},
      {"t":375.8,"cy":0.199,"cl":-0.038,"ch":0.353,"ay":-0.047,"al":-0.159,"ah":0.11},
      {"t":421.7,"cy":0.153,"cl":-0.047,"ch":0.34,"ay":0.047,"al":-0.133,"ah":0.085},
      {"t":473.2,"cy":0.255,"cl":0.008,"ch":0.398,"ay":-0.02,"al":-0.168,"ah":0.129},
      {"t":530.9,"cy":0.168,"cl":-0.024,"ch":0.368,"ay":0.031,"al":-0.133,"ah":0.091},
      {"t":595.7,"cy":0.225,"cl":-0.001,"ch":0.405,"ay":-0.006,"al":-0.151,"ah":0.109},
      {"t":668.3,"cy":0.198,"cl":-0.007,"ch":0.353,"ay":-0.055,"al":-0.119,"ah":0.125}
    ]
  },
  "hconcat": [
    {
      "width": 398,
      "height": 327,
      "data": {"name": "mq"},
      "layer": [
        {
          "mark": {"type": "area", "color": "#cdc3de", "clip": true},
          "encoding": {
            "x": {"field": "t", "type": "quantitative", "scale": {"type": "log", "domain": [0.01, 1000]},
              "axis": {"orient": "bottom", "values": [0.01,0.02,0.03,0.04,0.05,0.06,0.07,0.08,0.09,0.1,0.2,0.3,0.4,0.5,0.6,0.7,0.8,0.9,1,2,3,4,5,6,7,8,9,10,20,30,40,50,60,70,80,90,100,200,300,400,500,600,700,800,900,1000],
                "labelExpr": "abs(log(datum.value)/LN10 - round(log(datum.value)/LN10)) < 0.001 && datum.value < 999 ? format(datum.value, '~g') : ''",
                "tickSize": {"condition": {"test": "abs(log(datum.value)/LN10 - round(log(datum.value)/LN10)) < 0.001", "value": -6}, "value": -3},
                "labelPadding": 14, "labelFontSize": 16, "labelColor": "#000", "tickColor": "#000", "domainColor": "#000", "domainWidth": 1.5,
                "grid": false, "labelOverlap": false, "labelFlush": false, "labelBound": false,
                "title": "t / ps", "titleFontSize": 16, "titleFontWeight": "normal", "titleColor": "#000", "titleY": 27, "titleBaseline": "alphabetic"}},
            "y": {"field": "cl", "type": "quantitative", "scale": {"domain": [-0.4, 0.6], "nice": false},
              "axis": {"orient": "left", "values": [-0.4,-0.2,0,0.2,0.4,0.6], "tickSize": -6, "labelPadding": 17,
                "labelExpr": "datum.value == 0 ? '0' : format(datum.value, '.1f')",
                "labelFontSize": 16, "labelColor": "#000", "tickColor": "#000", "domainColor": "#000", "domainWidth": 1.5, "grid": false,
                "title": "N(t)−N(0)", "titleFontSize": 16, "titleFontWeight": "normal", "titleColor": "#000", "titleX": -46, "titleY": 188, "titleAngle": -90, "titleAlign": "center", "titleBaseline": "middle"}},
            "y2": {"field": "ch"}
          }
        },
        {
          "mark": {"type": "area", "color": "#f4a563", "clip": true},
          "encoding": {
            "x": {"field": "t", "type": "quantitative", "axis": {"orient": "top", "ticks": false, "labels": false, "title": null, "grid": false, "domainColor": "#444", "domainWidth": 1}},
            "y": {"field": "al", "type": "quantitative", "axis": {"orient": "right", "values": [-0.4,-0.2,0,0.2,0.4,0.6], "tickSize": -6, "labels": false, "title": null, "grid": false, "tickColor": "#000", "domainColor": "#000", "domainWidth": 1.5}},
            "y2": {"field": "ah"}
          }
        },
        {
          "mark": {"type": "line", "strokeWidth": 1.5, "clip": true},
          "encoding": {
            "x": {"field": "t", "type": "quantitative", "axis": null},
            "y": {"field": "cy", "type": "quantitative", "axis": null},
            "color": {"datum": "cation", "type": "nominal", "scale": {"domain": ["cation", "anion"], "range": ["#5e3c99", "#e66101"]},
              "legend": {"orient": "none", "legendX": 98, "legendY": 9, "title": null, "symbolType": "M-4.8,0H4.8", "symbolSize": 100, "symbolStrokeWidth": 1.5, "labelFontSize": 16, "labelColor": "#000", "labelAlign": "right", "labelOffset": -40, "padding": 0, "rowPadding": 1}}
          }
        },
        {
          "mark": {"type": "line", "strokeWidth": 1.5, "clip": true},
          "encoding": {
            "x": {"field": "t", "type": "quantitative", "axis": null},
            "y": {"field": "ay", "type": "quantitative", "axis": null},
            "color": {"datum": "anion", "type": "nominal"}
          }
        },
        {
          "data": {"values": [{"lab": "MQ"}]},
          "mark": {"type": "text", "fontSize": 33, "align": "left", "baseline": "alphabetic", "color": "#000"},
          "encoding": {
            "x": {"datum": 0.02, "type": "quantitative", "axis": null},
            "y": {"datum": -0.336, "type": "quantitative", "axis": null},
            "text": {"field": "lab"}
          }
        }
      ]
    },
    {
      "width": 370,
      "height": 327,
      "data": {"name": "c153"},
      "layer": [
        {
          "mark": {"type": "area", "color": "#cdc3de", "clip": true},
          "encoding": {
            "x": {"field": "t", "type": "quantitative", "scale": {"type": "log", "domain": [0.01, 713]},
              "axis": {"orient": "bottom", "values": [0.01,0.02,0.03,0.04,0.05,0.06,0.07,0.08,0.09,0.1,0.2,0.3,0.4,0.5,0.6,0.7,0.8,0.9,1,2,3,4,5,6,7,8,9,10,20,30,40,50,60,70,80,90,100,200,300,400,500,600,700],
                "labelExpr": "abs(log(datum.value)/LN10 - round(log(datum.value)/LN10)) < 0.001 && datum.value < 999 ? format(datum.value, '~g') : ''",
                "tickSize": {"condition": {"test": "abs(log(datum.value)/LN10 - round(log(datum.value)/LN10)) < 0.001", "value": -6}, "value": -3},
                "labelPadding": 14, "labelFontSize": 16, "labelColor": "#000", "tickColor": "#000", "domainColor": "#000", "domainWidth": 1.5,
                "grid": false, "labelOverlap": false, "labelFlush": false, "labelBound": false,
                "title": "t / ps", "titleFontSize": 16, "titleFontWeight": "normal", "titleColor": "#000", "titleX": 189, "titleAlign": "center", "titleY": 27, "titleBaseline": "alphabetic"}},
            "y": {"field": "cl", "type": "quantitative", "scale": {"domain": [-0.4, 0.6], "nice": false},
              "axis": {"orient": "left", "values": [-0.4,-0.2,0,0.2,0.4,0.6], "tickSize": -6, "labels": false, "title": null, "tickColor": "#000", "domainColor": "#000", "domainWidth": 1.5, "grid": false}},
            "y2": {"field": "ch"}
          }
        },
        {
          "mark": {"type": "area", "color": "#f4a563", "clip": true},
          "encoding": {
            "x": {"field": "t", "type": "quantitative", "axis": {"orient": "top", "ticks": false, "labels": false, "title": null, "grid": false, "domainColor": "#444", "domainWidth": 1}},
            "y": {"field": "al", "type": "quantitative", "axis": null},
            "y2": {"field": "ah"}
          }
        },
        {
          "mark": {"type": "line", "strokeWidth": 1.5, "clip": true},
          "encoding": {
            "x": {"field": "t", "type": "quantitative", "axis": null},
            "y": {"field": "cy", "type": "quantitative", "axis": null},
            "color": {"datum": "cation", "type": "nominal", "scale": {"domain": ["cation", "anion"], "range": ["#5e3c99", "#e66101"]},
              "legend": {"orient": "none", "legendX": 98, "legendY": 9, "title": null, "symbolType": "M-4.8,0H4.8", "symbolSize": 100, "symbolStrokeWidth": 1.5, "labelFontSize": 16, "labelColor": "#000", "labelAlign": "right", "labelOffset": -40, "padding": 0, "rowPadding": 1}}
          }
        },
        {
          "mark": {"type": "line", "strokeWidth": 1.5, "clip": true},
          "encoding": {
            "x": {"field": "t", "type": "quantitative", "axis": null},
            "y": {"field": "ay", "type": "quantitative", "axis": null},
            "color": {"datum": "anion", "type": "nominal"}
          }
        },
        {
          "data": {"values": [{"lab": "C153"}]},
          "mark": {"type": "text", "fontSize": 33, "align": "left", "baseline": "alphabetic", "color": "#000"},
          "encoding": {
            "x": {"datum": 0.0202, "type": "quantitative", "axis": null},
            "y": {"datum": -0.336, "type": "quantitative", "axis": null},
            "text": {"field": "lab"}
          }
        }
      ]
    }
  ]
}
